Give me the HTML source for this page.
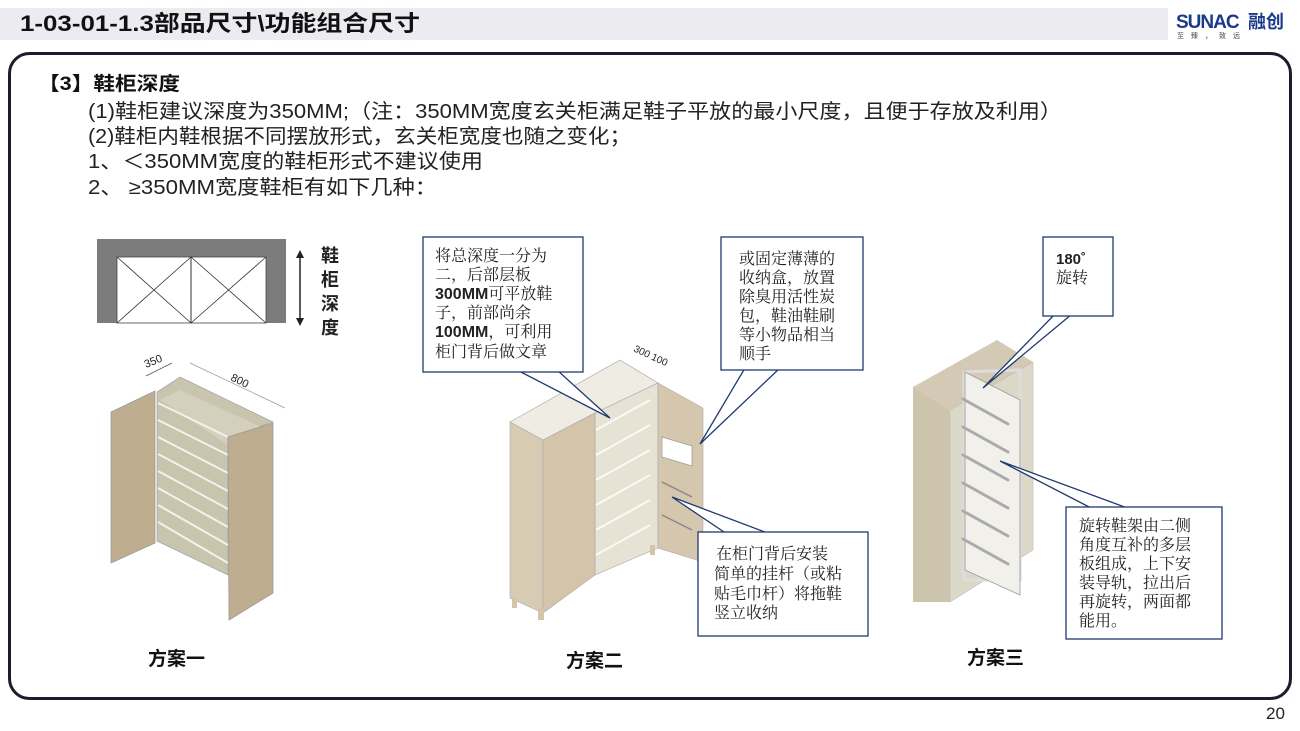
<!DOCTYPE html>
<html><head><meta charset="utf-8"><style>
body{margin:0;width:1300px;height:731px;background:#fff;overflow:hidden;font-family:"Liberation Sans","Noto Sans CJK SC",sans-serif}
svg{position:absolute;left:0;top:0}
</style></head><body>
<svg width="1300" height="731" viewBox="0 0 1300 731" font-family="'Liberation Sans','Noto Sans CJK SC',sans-serif">
<rect x="0" y="8" width="1168" height="32" fill="#ebebf0"/>
<text x="20" y="31" font-size="22" font-weight="bold" fill="#111" textLength="400" lengthAdjust="spacingAndGlyphs">1-03-01-1.3部品尺寸\功能组合尺寸</text>
<text x="1176" y="28" font-size="19" font-weight="bold" fill="#1a3a8a" letter-spacing="-1">SUNAC</text>
<text x="1248" y="28" font-size="18" font-weight="bold" fill="#1a3a8a">融创</text>
<text x="1177" y="38" font-size="7" fill="#444" letter-spacing="7">至臻，致远</text>
<rect x="9.5" y="53.5" width="1281" height="645" rx="20" fill="none" stroke="#1c1c2c" stroke-width="3"/>
<text x="38" y="90" font-size="19" font-weight="bold" fill="#111" textLength="142" lengthAdjust="spacingAndGlyphs">【3】鞋柜深度</text>
<g font-size="20" fill="#222">
<text x="88" y="118" textLength="974" lengthAdjust="spacingAndGlyphs">(1)鞋柜建议深度为350MM;（注：350MM宽度玄关柜满足鞋子平放的最小尺度，且便于存放及利用）</text>
<text x="88" y="143" textLength="543" lengthAdjust="spacingAndGlyphs">(2)鞋柜内鞋根据不同摆放形式，玄关柜宽度也随之变化；</text>
<text x="88" y="168" textLength="395" lengthAdjust="spacingAndGlyphs">1、＜350MM宽度的鞋柜形式不建议使用</text>
<text x="88" y="194" textLength="349" lengthAdjust="spacingAndGlyphs">2、 ≥350MM宽度鞋柜有如下几种：</text>
</g>
<text x="1266" y="719" font-size="17" fill="#222">20</text>

<!-- plan 1 -->
<rect x="97" y="239" width="189" height="84" fill="#7c7c7c"/>
<rect x="117" y="257" width="149" height="66" fill="#fff" stroke="#444" stroke-width="0.8"/>
<line x1="191" y1="257" x2="191" y2="323" stroke="#333"/>
<path d="M117 257L191 323M191 257L117 323M191 257L266 323M266 257L191 323" stroke="#333" stroke-width="0.8"/>
<line x1="300" y1="256" x2="300" y2="320" stroke="#222" stroke-width="1.5"/>
<path d="M296 258L300 250L304 258ZM296 318L300 326L304 318Z" fill="#222"/>
<g font-size="18" font-weight="bold" fill="#222"><text x="321" y="262">鞋</text><text x="321" y="286">柜</text><text x="321" y="310">深</text><text x="321" y="334">度</text></g>
<polygon points="157,392 180,377 273,422 228,437 228,575 157,541" fill="#c9c4ad" stroke="#999" stroke-width="0.6"/>
<polygon points="160,400 180,390 268,430 228,445" fill="#d4d0bd"/>
<g stroke="#f2f2ee" stroke-width="2">
<line x1="158" y1="403" x2="228" y2="437"/><line x1="158" y1="420" x2="228" y2="455"/><line x1="158" y1="437" x2="228" y2="473"/><line x1="158" y1="454" x2="228" y2="491"/><line x1="158" y1="471" x2="228" y2="509"/><line x1="158" y1="488" x2="228" y2="527"/><line x1="158" y1="505" x2="228" y2="545"/><line x1="158" y1="522" x2="228" y2="563"/></g>
<polygon points="111,412 155,391 155,543 111,563" fill="#bfad8f" stroke="#999" stroke-width="0.8"/>
<polygon points="228,437 273,423 273,593 229,620" fill="#bfad8f" stroke="#999" stroke-width="0.8"/>
<line x1="146" y1="376" x2="172" y2="363" stroke="#555" stroke-width="0.7"/>
<text x="146" y="368" font-size="11" fill="#222" transform="rotate(-22 146 368)">350</text>
<line x1="190" y1="363" x2="285" y2="408" stroke="#999" stroke-width="0.7"/>
<text x="230" y="380" font-size="11" fill="#222" transform="rotate(26 230 380)">800</text>
<text x="148" y="665" font-size="19" font-weight="bold" fill="#111">方案一</text>

<!-- plan 2 cabinet -->
<polygon points="510,422 620,360 658,383 595,413 543,440" fill="#efece4" stroke="#aaa" stroke-width="0.7"/>
<polygon points="595,413 658,383 658,548 595,575" fill="#e6e2d4" stroke="#aaa" stroke-width="0.6"/>
<g stroke="#fafaf6" stroke-width="2"><line x1="596" y1="430" x2="650" y2="400"/><line x1="596" y1="455" x2="650" y2="425"/><line x1="596" y1="480" x2="650" y2="450"/><line x1="596" y1="505" x2="650" y2="475"/><line x1="596" y1="530" x2="650" y2="500"/><line x1="596" y1="555" x2="650" y2="525"/></g>
<polygon points="510,422 543,440 543,613 510,598" fill="#d8cbb3" stroke="#aaa" stroke-width="0.6"/>
<polygon points="543,440 595,413 595,575 543,613" fill="#d3c4aa" stroke="#aaa" stroke-width="0.6"/>
<polygon points="658,383 703,408 703,562 658,548" fill="#d5c7ad" stroke="#aaa" stroke-width="0.6"/>
<rect x="512" y="598" width="5" height="10" fill="#d3c4aa"/><rect x="538" y="608" width="6" height="12" fill="#d3c4aa"/><rect x="650" y="545" width="5" height="10" fill="#d3c4aa"/>
<polygon points="662,437 692,446 692,466 662,457" fill="#fff" stroke="#999" stroke-width="0.7"/>
<line x1="662" y1="482" x2="692" y2="497" stroke="#888" stroke-width="1.5"/><line x1="662" y1="515" x2="692" y2="530" stroke="#888" stroke-width="1.5"/>
<text x="633" y="351" font-size="10" fill="#222" transform="rotate(25 633 351)">300 100</text>
<text x="566" y="667" font-size="19" font-weight="bold" fill="#111">方案二</text>

<!-- callouts plan 2 -->
<g fill="#fff" stroke="#1f3a6e" stroke-width="1.3">
<polygon points="517,370 557,370 610,418"/>
<rect x="423" y="237" width="160" height="135"/>
<polygon points="745,368 780,368 700,444"/>
<rect x="721" y="237" width="142" height="133"/>
<polygon points="727,534 770,534 672,497"/>
<rect x="698" y="532" width="170" height="104"/>
</g>
<rect x="424" y="238" width="158" height="133" fill="#fff"/>
<rect x="722" y="238" width="140" height="131" fill="#fff"/>
<rect x="699" y="533" width="168" height="102" fill="#fff"/>
<g font-size="16" fill="#222" font-family="'Liberation Serif','Noto Serif CJK SC',serif">
<text x="435" y="261">将总深度一分为</text><text x="435" y="280">二，后部层板</text>
<text x="435" y="299"><tspan font-weight="bold" font-family="'Liberation Sans',sans-serif">300MM</tspan>可平放鞋</text>
<text x="435" y="318">子，前部尚余</text>
<text x="435" y="337"><tspan font-weight="bold" font-family="'Liberation Sans',sans-serif">100MM</tspan>，可利用</text>
<text x="435" y="357">柜门背后做文章</text>
<text x="739" y="264">或固定薄薄的</text><text x="739" y="283">收纳盒，放置</text><text x="739" y="302">除臭用活性炭</text><text x="739" y="321">包，鞋油鞋刷</text><text x="739" y="340">等小物品相当</text><text x="739" y="359">顺手</text>
<text x="716" y="559">在柜门背后安装</text><text x="714" y="579">简单的挂杆（或粘</text><text x="714" y="599">贴毛巾杆）将拖鞋</text><text x="714" y="618">竖立收纳</text>
</g>

<!-- plan 3 -->
<polygon points="913,387 997,340 1033,362 950,410" fill="#d3c9b4"/>
<polygon points="913,387 950,410 950,602 913,602" fill="#cdc4ae"/>
<polygon points="950,410 1033,362 1033,550 950,602" fill="#dcd8c8" stroke="#bbb" stroke-width="0.6"/>
<polygon points="964,372 1020,370 1020,580 964,580" fill="none" stroke="#ddd" stroke-width="3"/>
<polygon points="965,372 1020,400 1020,595 965,570" fill="#f1f0ea" stroke="#999" stroke-width="0.8"/>
<g stroke="#aaa" stroke-width="3" stroke-linecap="round">
<line x1="963" y1="399" x2="1008" y2="424"/><line x1="963" y1="427" x2="1008" y2="452"/><line x1="963" y1="455" x2="1008" y2="480"/><line x1="963" y1="483" x2="1008" y2="508"/><line x1="963" y1="511" x2="1008" y2="536"/><line x1="963" y1="539" x2="1008" y2="564"/></g>
<text x="967" y="664" font-size="19" font-weight="bold" fill="#111">方案三</text>
<g fill="#fff" stroke="#1f3a6e" stroke-width="1.3">
<polygon points="1055,314 1072,314 983,388"/>
<rect x="1043" y="237" width="70" height="79"/>
<polygon points="1093,509 1130,509 1000,461"/>
<rect x="1066" y="507" width="156" height="132"/>
</g>
<rect x="1044" y="238" width="68" height="77" fill="#fff"/>
<rect x="1067" y="508" width="154" height="130" fill="#fff"/>
<text x="1056" y="264" font-size="15" font-weight="bold" fill="#222">180˚</text>
<g font-size="16" fill="#222" font-family="'Liberation Serif','Noto Serif CJK SC',serif">
<text x="1056" y="283">旋转</text>
<text x="1079" y="531">旋转鞋架由二侧</text><text x="1079" y="550">角度互补的多层</text><text x="1079" y="569">板组成，上下安</text><text x="1079" y="588">装导轨，拉出后</text><text x="1079" y="607">再旋转，两面都</text><text x="1079" y="626">能用。</text>
</g>
</svg>
</body></html>
